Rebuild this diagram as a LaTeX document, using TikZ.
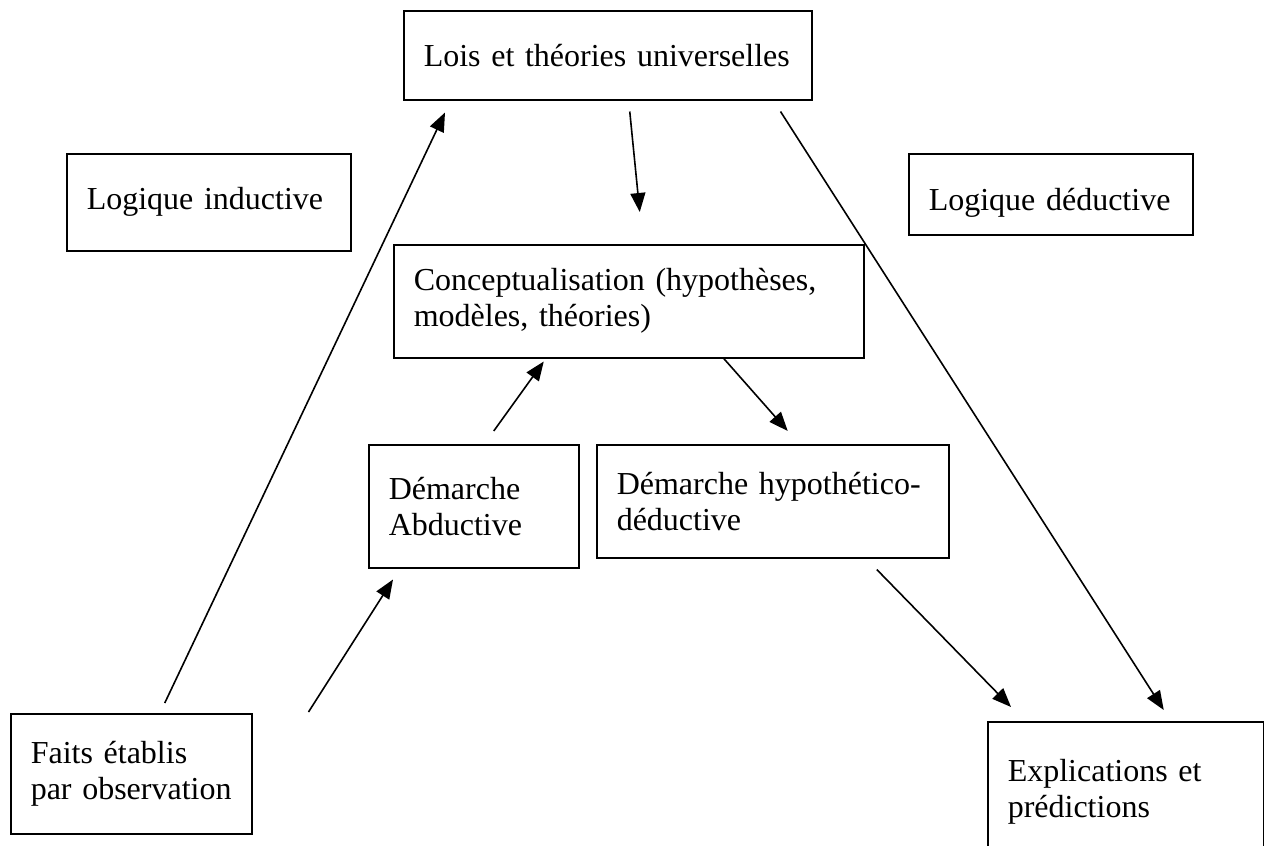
\documentclass[tikz,border=0pt]{standalone}
\usepackage{fontspec}
\setmainfont{Liberation Serif}
\usetikzlibrary{arrows.meta}

\begin{document}
\begin{tikzpicture}[x=0.5pt,y=-0.5pt,
    boite/.style={draw, line width=0.75pt, anchor=north west, align=left,
      inner xsep=10pt, inner ysep=0pt, font=\fontsize{16}{18}\selectfont},
    fleche/.style={line width=0.8pt, -{Triangle[length=9.5pt,width=7.5pt]}}]
  \useasboundingbox (0,0) rectangle (1264,846);

  % Boites
  \node[boite, text width=184pt, minimum height=44.5pt] (lois) at (403,10) {Lois et théories universelles};
  \node[boite, text width=122pt, minimum height=48.5pt] (induc) at (66,153) {Logique inductive};
  \node[boite, text width=122pt, minimum height=40.5pt, text height=19pt, text depth=3pt] (deduc) at (908,153) {Logique déductive};
  \node[boite, text width=215pt, minimum height=56.5pt] (concept) at (393,244) {Conceptualisation (hypothèses,\\ modèles, théories)};
  \node[boite, text width=85pt, minimum height=61.5pt] (abduc) at (368,444) {Démarche\\ Abductive};
  \node[boite, text width=156pt, minimum height=56.5pt] (hypo) at (596,444) {Démarche hypothético-\\ déductive};
  \node[boite, text width=100.5pt, minimum height=60pt] (faits) at (10,713) {Faits établis\\ par observation};
  \node[boite, text width=118pt, minimum height=70pt] (expl) at (987,721) {Explications et\\ prédictions};

  % Fleches
  \draw[fleche] ([xshift=16.75pt,yshift=5pt]faits.north) -- ([xshift=21pt,yshift=-6pt]lois.south west);
  \draw[fleche] ([xshift=28pt,yshift=0.5pt]faits.north east) -- ([xshift=12.5pt,yshift=-5.5pt]abduc.south west);
  \draw[fleche] ([xshift=10pt,yshift=6.5pt]abduc.north) -- ([xshift=-42.5pt,yshift=-1.5pt]concept.south);
  \draw[fleche] ([xshift=11pt,yshift=-5.5pt]lois.south) -- ([xshift=5.5pt,yshift=16pt]concept.north);
  \draw[fleche] ([xshift=-16pt,yshift=-5.5pt]lois.south east) -- ([xshift=19pt,yshift=5.5pt]expl.north);
  \draw[fleche] ([xshift=47.5pt]concept.south) -- ([xshift=7.5pt,yshift=6.5pt]hypo.north);
  \draw[fleche] ([xshift=52pt,yshift=-5.5pt]hypo.south) -- ([xshift=12pt,yshift=7pt]expl.north west);

\end{tikzpicture}
\end{document}
